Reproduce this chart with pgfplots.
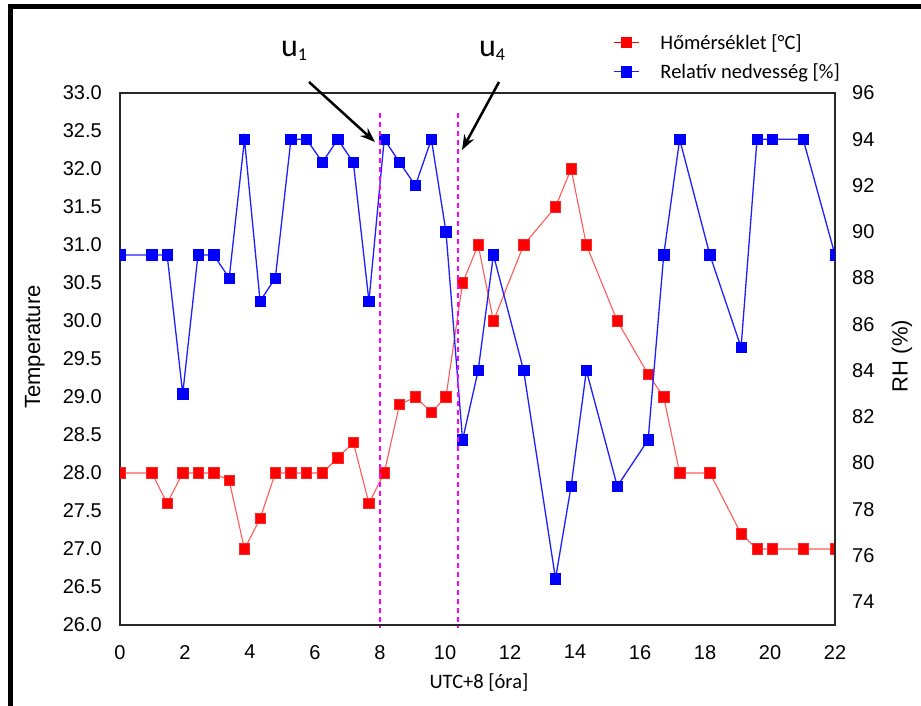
\documentclass[border=0pt]{standalone}
\usepackage{pgfplots}
\pgfplotsset{compat=1.18}
\usepackage{pgfplotstable}
\usepackage{fontspec}
\setmainfont{Carlito}
\newfontfamily\arialfont{Liberation Sans}
\usetikzlibrary{arrows.meta}

\definecolor{tline}{RGB}{255,90,90}
\definecolor{hline}{RGB}{30,30,255}
\definecolor{axgray}{RGB}{40,40,40}
\definecolor{pinkline}{RGB}{255,0,255}

\pgfplotstableread{
t     T     RH
0     28.0  89
0.98  28.0  89
1.45  27.6  89
1.93  28.0  83
2.40  28.0  89
2.88  28.0  89
3.36  27.9  88
3.83  27.0  94
4.31  27.4  87
4.78  28.0  88
5.26  28.0  94
5.74  28.0  94
6.23  28.0  93
6.70  28.2  94
7.18  28.4  93
7.66  27.6  87
8.13  28.0  94
8.60  28.9  93
9.09  29.0  92
9.58  28.8  94
10.03 29.0  90
10.54 30.5  81
11.02 31.0  84
11.49 30.0  89
12.42 31.0  84
13.40 31.5  75
13.88 32.0  79
14.35 31.0  84
15.30 30.0  79
16.25 29.3  81
16.73 29.0  89
17.22 28.0  94
18.15 28.0  89
19.11 27.2  85
19.60 27.0  94
20.07 27.0  94
21.02 27.0  94
22    27.0  89
}\datatable

\pgfplotsset{
  common/.style={
    at={(120pt,81pt)}, anchor=south west,
    scale only axis, width=715pt, height=532pt,
    xmin=0, xmax=22,
    major tick length=0pt,
    clip marker paths=true,
    /pgf/number format/assume math mode=true,
    every tick label/.append style={inner sep=0pt},
    tick label style={font=\arialfont\fontsize{20}{24}\selectfont, text=black},
    axis line style={draw=axgray, line width=1.2pt},
  },
}

\begin{document}
\begin{tikzpicture}
\useasboundingbox (0pt,0pt) rectangle (921pt,706pt);

\begin{axis}[common,
  ymin=26, ymax=33,
  xtick={0,2,4,6,8,10,12,14,16,18,20,22},
  ytick={26,26.5,27,27.5,28,28.5,29,29.5,30,30.5,31,31.5,32,32.5,33},
  xtick pos=bottom, ytick pos=left,
  yticklabel style={xshift=-18pt, /pgf/number format/.cd, fixed, fixed zerofill, precision=1},
  xticklabel style={yshift=-20pt},
  xlabel={UTC+8 [óra]},
  xlabel style={at={(axis description cs:0.502,-0.109)}, anchor=center, font=\fontsize{20.5}{24}\selectfont},
  ylabel={Temperature},
  ylabel style={at={(axis description cs:-0.119,0.5226)}, anchor=center, font=\arialfont\fontsize{22}{26}\selectfont},
]
\addplot[tline, line width=1.1pt, mark=square*, mark size=5.2pt,
  mark options={solid, fill=red, draw=red!85!white, line width=0.6pt}]
  table[x=t, y=T] {\datatable};
\coordinate (d1t) at (axis cs:8,32.74);
\coordinate (d1b) at (axis cs:8,25.96);
\coordinate (d2t) at (axis cs:10.4,32.74);
\coordinate (d2b) at (axis cs:10.4,25.96);
\end{axis}

\begin{axis}[common,
  ymin=73, ymax=96,
  ytick={74,76,78,80,82,84,86,88,90,92,94,96},
  hide x axis,
  axis y line*=right,
  yticklabel style={xshift=17pt},
  ylabel={RH (\%)},
  ylabel style={at={(axis description cs:1.0937,0.5056)}, anchor=center, font=\arialfont\fontsize{22}{26}\selectfont},
  legend image code/.code={\draw[mark repeat=2,mark phase=2,#1] plot coordinates {(0pt,0pt) (12.5pt,0pt) (25pt,0pt)};},
  legend cell align=left,
  legend style={at={(axis description cs:0.6895,1.1128)}, anchor=north west,
    draw=none, fill=none, inner sep=0pt, row sep=11pt,
    font=\fontsize{20.5}{24}\selectfont,
    nodes={inner sep=1pt},
    /tikz/every odd column/.append style={column sep=20pt}},
]
\addlegendimage{red, line width=1.1pt, mark=square*, mark size=5.2pt, mark options={solid, fill=red}}
\addlegendentry{Hőmérséklet [°C]}
\addplot[hline, line width=1.3pt, mark=square*, mark size=5.2pt,
  mark options={solid, fill=blue, draw=blue, line width=0.6pt}]
  table[x=t, y=RH] {\datatable};
\addlegendentry{Relatív nedvesség [\%]}
\end{axis}

\draw[pinkline, line width=1.1pt, dash pattern=on 5pt off 4pt] (d1t) -- (d1b);
\draw[pinkline, line width=1.1pt, dash pattern=on 5pt off 4pt] (d2t) -- (d2b);

\draw[black, line width=2.5pt, -{Stealth[length=15pt,width=11pt]}] (309pt,624pt) -- (375pt,564pt);
\draw[black, line width=2.5pt, -{Stealth[length=15pt,width=11pt]}] (499pt,624pt) -- (462pt,556pt);

\node[anchor=base, inner sep=0pt, font=\fontsize{32}{34}\selectfont] at (294pt,649pt) {u\raisebox{-4pt}{\fontsize{18}{20}\selectfont 1}};
\node[anchor=base, inner sep=0pt, font=\fontsize{32}{34}\selectfont] at (492pt,649pt) {u\raisebox{-4pt}{\fontsize{18}{20}\selectfont 4}};

\draw[black, line width=4.5pt] (10.5pt,-5pt) -- (10.5pt,699.5pt) -- (930pt,699.5pt);
\end{tikzpicture}
\end{document}
